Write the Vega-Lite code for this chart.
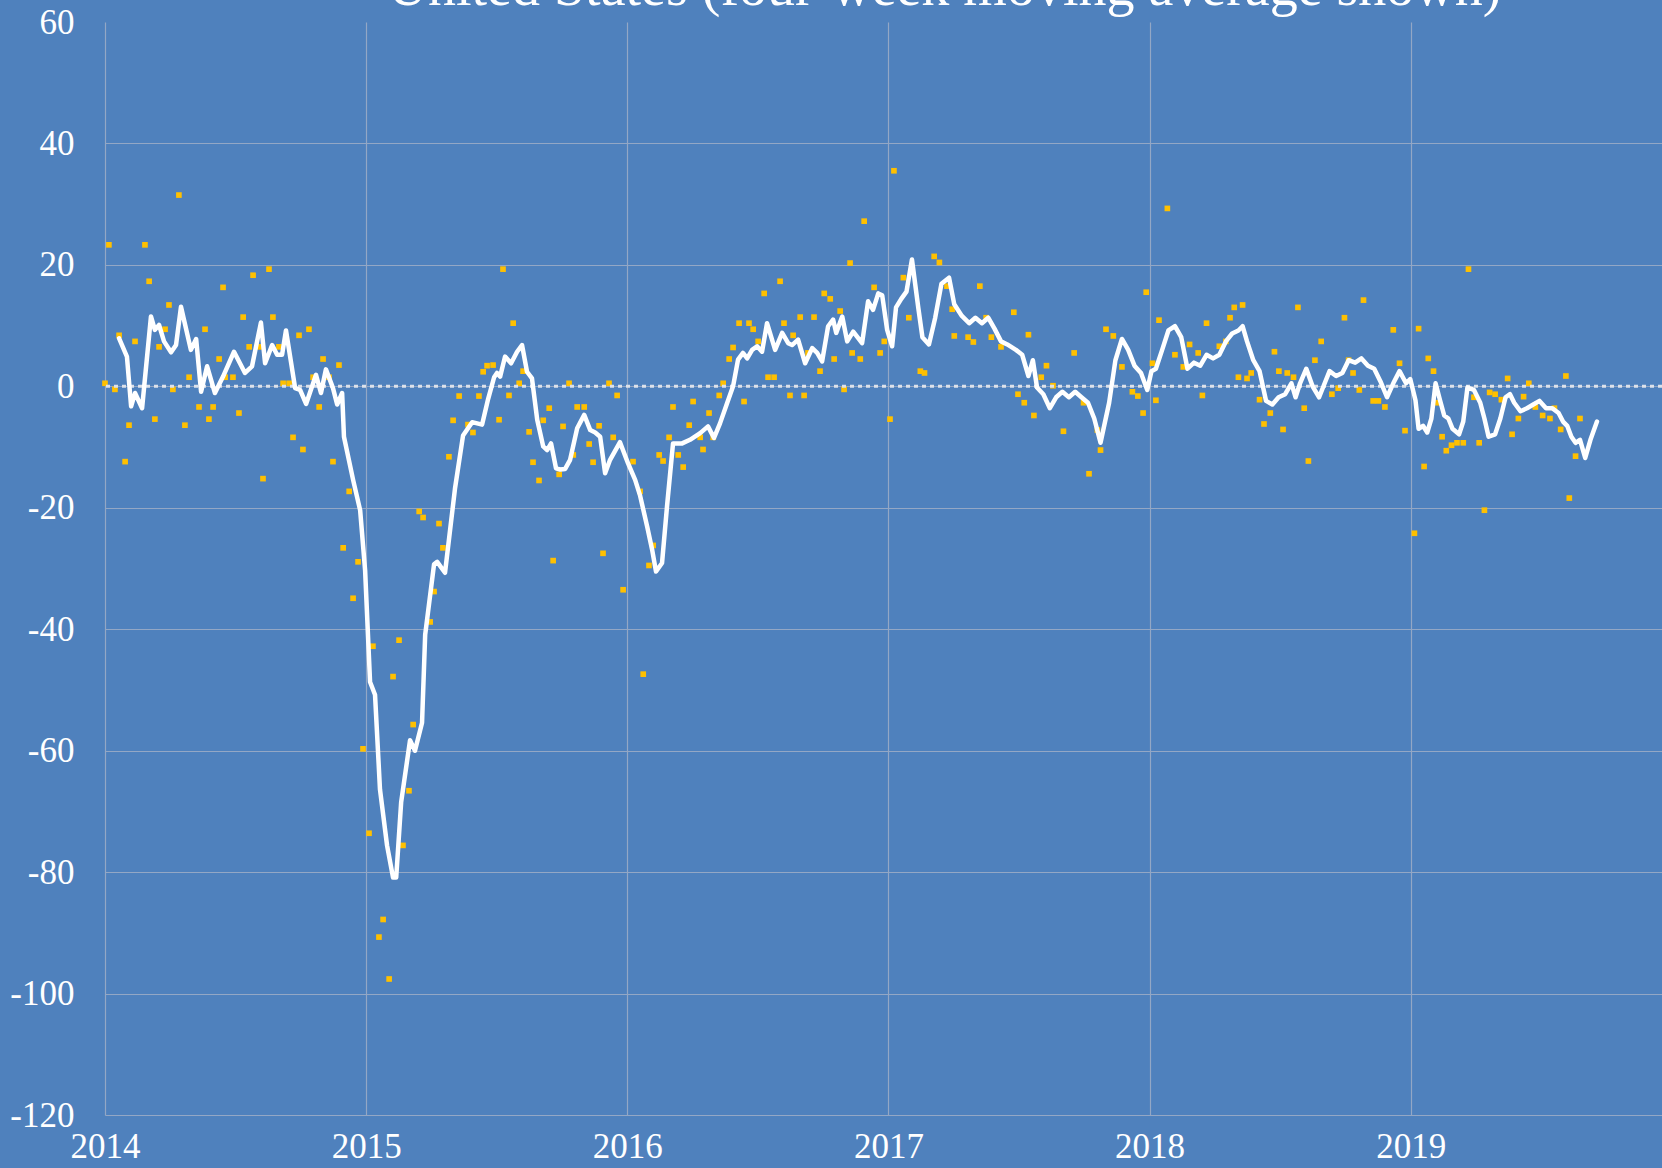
{
  "$schema": "https://vega.github.io/schema/vega-lite/v6.json",
  "autosize": {"type": "none"},
  "padding": {"left": 105, "top": 22, "right": 0, "bottom": 53},
  "width": 1557,
  "height": 1093,
  "background": "#4F81BD",
  "config": {
    "view": {"stroke": null},
    "axis": {
      "labelFont": "Liberation Serif",
      "labelFontSize": 35,
      "labelColor": "#FFFFFF",
      "gridColor": "#93A7C5",
      "gridWidth": 1.2,
      "domain": false,
      "ticks": false,
      "tickSize": 0,
      "title": null
    }
  },
  "title": {
    "text": "United States (four-week moving average shown)",
    "font": "Liberation Serif",
    "fontSize": 56,
    "fontWeight": "normal",
    "color": "#FFFFFF",
    "anchor": "middle",
    "frame": "group",
    "baseline": "alphabetic",
    "offset": 0,
    "dy": 56,
    "dx": 61
  },
  "datasets": {
    "pts": [
      {"t": 2014.000, "v": 0.5}, {"t": 2014.015, "v": 23.3}, {"t": 2014.038, "v": -0.5}, {"t": 2014.054, "v": 8.4},
      {"t": 2014.077, "v": -12.4}, {"t": 2014.092, "v": -6.4}, {"t": 2014.115, "v": 7.4}, {"t": 2014.153, "v": 23.3},
      {"t": 2014.169, "v": 17.3}, {"t": 2014.191, "v": -5.4}, {"t": 2014.207, "v": 6.5}, {"t": 2014.230, "v": 9.4},
      {"t": 2014.245, "v": 13.4}, {"t": 2014.260, "v": -0.5}, {"t": 2014.283, "v": 31.5}, {"t": 2014.306, "v": -6.4},
      {"t": 2014.322, "v": 1.5}, {"t": 2014.360, "v": -3.4}, {"t": 2014.383, "v": 9.4}, {"t": 2014.398, "v": -5.4},
      {"t": 2014.414, "v": -3.4}, {"t": 2014.437, "v": 4.5}, {"t": 2014.452, "v": 16.3}, {"t": 2014.460, "v": 1.5},
      {"t": 2014.490, "v": 1.5}, {"t": 2014.513, "v": -4.4}, {"t": 2014.529, "v": 11.4}, {"t": 2014.552, "v": 6.5},
      {"t": 2014.567, "v": 18.3}, {"t": 2014.590, "v": 6.5}, {"t": 2014.605, "v": -15.2}, {"t": 2014.628, "v": 19.3},
      {"t": 2014.643, "v": 11.4}, {"t": 2014.666, "v": 6.5}, {"t": 2014.682, "v": 0.5}, {"t": 2014.705, "v": 0.5},
      {"t": 2014.720, "v": -8.4}, {"t": 2014.743, "v": 8.4}, {"t": 2014.758, "v": -10.4}, {"t": 2014.781, "v": 9.4},
      {"t": 2014.797, "v": 1.5}, {"t": 2014.820, "v": -3.4}, {"t": 2014.835, "v": 4.5}, {"t": 2014.858, "v": 1.5},
      {"t": 2014.873, "v": -12.4}, {"t": 2014.896, "v": 3.5}, {"t": 2014.912, "v": -26.6}, {"t": 2014.935, "v": -17.3},
      {"t": 2014.950, "v": -34.9}, {"t": 2014.969, "v": -28.9}, {"t": 2014.988, "v": -59.7}, {"t": 2015.011, "v": -73.6},
      {"t": 2015.026, "v": -42.8}, {"t": 2015.049, "v": -90.7}, {"t": 2015.065, "v": -87.8}, {"t": 2015.088, "v": -97.6},
      {"t": 2015.103, "v": -47.8}, {"t": 2015.126, "v": -41.8}, {"t": 2015.141, "v": -75.6}, {"t": 2015.164, "v": -66.6},
      {"t": 2015.180, "v": -55.7}, {"t": 2015.203, "v": -20.6}, {"t": 2015.218, "v": -21.6}, {"t": 2015.245, "v": -38.8},
      {"t": 2015.260, "v": -33.8}, {"t": 2015.279, "v": -22.6}, {"t": 2015.294, "v": -26.6}, {"t": 2015.317, "v": -11.6},
      {"t": 2015.333, "v": -5.6}, {"t": 2015.356, "v": -1.6}, {"t": 2015.390, "v": -6.3}, {"t": 2015.409, "v": -7.6},
      {"t": 2015.432, "v": -1.6}, {"t": 2015.448, "v": 2.4}, {"t": 2015.463, "v": 3.4}, {"t": 2015.486, "v": 3.5},
      {"t": 2015.509, "v": -5.5}, {"t": 2015.524, "v": 19.3}, {"t": 2015.547, "v": -1.5}, {"t": 2015.563, "v": 10.4},
      {"t": 2015.586, "v": 0.5}, {"t": 2015.601, "v": 2.5}, {"t": 2015.624, "v": -7.5}, {"t": 2015.639, "v": -12.5},
      {"t": 2015.662, "v": -15.5}, {"t": 2015.678, "v": -5.6}, {"t": 2015.701, "v": -3.6}, {"t": 2015.716, "v": -28.7},
      {"t": 2015.739, "v": -14.5}, {"t": 2015.754, "v": -6.6}, {"t": 2015.777, "v": 0.5}, {"t": 2015.793, "v": -11.3},
      {"t": 2015.808, "v": -3.4}, {"t": 2015.835, "v": -3.4}, {"t": 2015.854, "v": -9.5}, {"t": 2015.869, "v": -12.5},
      {"t": 2015.892, "v": -6.5}, {"t": 2015.907, "v": -27.5}, {"t": 2015.930, "v": 0.5}, {"t": 2015.946, "v": -8.4},
      {"t": 2015.961, "v": -1.5}, {"t": 2015.984, "v": -33.5}, {"t": 2016.022, "v": -12.4}, {"t": 2016.049, "v": -17.3},
      {"t": 2016.061, "v": -47.4}, {"t": 2016.083, "v": -29.5}, {"t": 2016.099, "v": -26.2}, {"t": 2016.122, "v": -11.3},
      {"t": 2016.137, "v": -12.3}, {"t": 2016.160, "v": -8.4}, {"t": 2016.175, "v": -3.4}, {"t": 2016.195, "v": -11.3},
      {"t": 2016.214, "v": -13.3}, {"t": 2016.237, "v": -6.4}, {"t": 2016.252, "v": -2.5}, {"t": 2016.279, "v": -8.4},
      {"t": 2016.290, "v": -10.4}, {"t": 2016.313, "v": -4.4}, {"t": 2016.329, "v": -8.4}, {"t": 2016.352, "v": -1.5},
      {"t": 2016.367, "v": 0.5}, {"t": 2016.390, "v": 4.5}, {"t": 2016.405, "v": 6.4}, {"t": 2016.428, "v": 10.4},
      {"t": 2016.447, "v": -2.5}, {"t": 2016.466, "v": 10.4}, {"t": 2016.482, "v": 9.4}, {"t": 2016.501, "v": 7.4},
      {"t": 2016.524, "v": 15.3}, {"t": 2016.539, "v": 1.5}, {"t": 2016.562, "v": 1.5}, {"t": 2016.585, "v": 17.3},
      {"t": 2016.600, "v": 10.4}, {"t": 2016.623, "v": -1.5}, {"t": 2016.635, "v": 8.4}, {"t": 2016.662, "v": 11.4},
      {"t": 2016.677, "v": -1.5}, {"t": 2016.692, "v": 5.5}, {"t": 2016.715, "v": 11.4}, {"t": 2016.738, "v": 2.5},
      {"t": 2016.754, "v": 15.3}, {"t": 2016.777, "v": 14.4}, {"t": 2016.792, "v": 4.5}, {"t": 2016.815, "v": 12.4},
      {"t": 2016.830, "v": -0.5}, {"t": 2016.853, "v": 20.3}, {"t": 2016.861, "v": 5.5}, {"t": 2016.892, "v": 4.5},
      {"t": 2016.907, "v": 27.2}, {"t": 2016.945, "v": 16.3}, {"t": 2016.968, "v": 5.5}, {"t": 2016.984, "v": 7.4},
      {"t": 2017.006, "v": -5.4}, {"t": 2017.021, "v": 35.5}, {"t": 2017.057, "v": 17.9}, {"t": 2017.078, "v": 11.3},
      {"t": 2017.122, "v": 2.5}, {"t": 2017.138, "v": 2.2}, {"t": 2017.175, "v": 21.4}, {"t": 2017.195, "v": 20.4},
      {"t": 2017.224, "v": 16.5}, {"t": 2017.244, "v": 12.7}, {"t": 2017.252, "v": 8.3}, {"t": 2017.305, "v": 8.1},
      {"t": 2017.325, "v": 7.3}, {"t": 2017.350, "v": 16.5}, {"t": 2017.374, "v": 11.3}, {"t": 2017.394, "v": 8.1},
      {"t": 2017.431, "v": 6.5}, {"t": 2017.480, "v": 12.2}, {"t": 2017.496, "v": -1.3}, {"t": 2017.520, "v": -2.7},
      {"t": 2017.536, "v": 8.5}, {"t": 2017.557, "v": -4.8}, {"t": 2017.585, "v": 1.5}, {"t": 2017.605, "v": 3.4},
      {"t": 2017.630, "v": 0.1}, {"t": 2017.670, "v": -7.4}, {"t": 2017.711, "v": 5.5}, {"t": 2017.747, "v": -2.7},
      {"t": 2017.768, "v": -14.4}, {"t": 2017.800, "v": -7.2}, {"t": 2017.812, "v": -10.5}, {"t": 2017.833, "v": 9.4},
      {"t": 2017.861, "v": 8.3}, {"t": 2017.894, "v": 3.2}, {"t": 2017.934, "v": -0.9}, {"t": 2017.955, "v": -1.6},
      {"t": 2017.975, "v": -4.4}, {"t": 2017.987, "v": 15.5}, {"t": 2018.011, "v": 3.8}, {"t": 2018.024, "v": -2.3},
      {"t": 2018.036, "v": 10.9}, {"t": 2018.068, "v": 29.3}, {"t": 2018.097, "v": 5.2}, {"t": 2018.129, "v": 3.2},
      {"t": 2018.153, "v": 6.9}, {"t": 2018.186, "v": 5.5}, {"t": 2018.202, "v": -1.5}, {"t": 2018.218, "v": 10.4},
      {"t": 2018.267, "v": 6.6}, {"t": 2018.292, "v": 7.4}, {"t": 2018.308, "v": 11.3}, {"t": 2018.324, "v": 13.0},
      {"t": 2018.340, "v": 1.5}, {"t": 2018.356, "v": 13.4}, {"t": 2018.373, "v": 1.3}, {"t": 2018.389, "v": 2.2},
      {"t": 2018.421, "v": -2.2}, {"t": 2018.438, "v": -6.2}, {"t": 2018.462, "v": -4.4}, {"t": 2018.478, "v": 5.7},
      {"t": 2018.495, "v": 2.5}, {"t": 2018.511, "v": -7.1}, {"t": 2018.527, "v": 2.2}, {"t": 2018.551, "v": 1.5},
      {"t": 2018.568, "v": 13.0}, {"t": 2018.592, "v": -3.6}, {"t": 2018.608, "v": -12.3}, {"t": 2018.633, "v": 4.3},
      {"t": 2018.657, "v": 7.4}, {"t": 2018.698, "v": -1.3}, {"t": 2018.722, "v": -0.3}, {"t": 2018.746, "v": 11.3},
      {"t": 2018.762, "v": 4.3}, {"t": 2018.779, "v": 2.2}, {"t": 2018.803, "v": -0.6}, {"t": 2018.819, "v": 14.2},
      {"t": 2018.856, "v": -2.4}, {"t": 2018.876, "v": -2.4}, {"t": 2018.901, "v": -3.4}, {"t": 2018.933, "v": 9.3},
      {"t": 2018.957, "v": 3.8}, {"t": 2018.978, "v": -7.3}, {"t": 2019.014, "v": -24.2}, {"t": 2019.030, "v": 9.5},
      {"t": 2019.051, "v": -13.2}, {"t": 2019.067, "v": 4.6}, {"t": 2019.087, "v": 2.5}, {"t": 2019.104, "v": -2.7},
      {"t": 2019.120, "v": -8.3}, {"t": 2019.136, "v": -10.6}, {"t": 2019.156, "v": -9.7}, {"t": 2019.177, "v": -9.3},
      {"t": 2019.201, "v": -9.3}, {"t": 2019.221, "v": 19.3}, {"t": 2019.242, "v": -1.8}, {"t": 2019.262, "v": -9.3},
      {"t": 2019.282, "v": -20.4}, {"t": 2019.302, "v": -1.0}, {"t": 2019.323, "v": -1.3}, {"t": 2019.347, "v": -2.2},
      {"t": 2019.371, "v": 1.3}, {"t": 2019.388, "v": -7.9}, {"t": 2019.412, "v": -5.3}, {"t": 2019.432, "v": -1.7},
      {"t": 2019.452, "v": 0.5}, {"t": 2019.477, "v": -3.4}, {"t": 2019.505, "v": -4.8}, {"t": 2019.533, "v": -5.3},
      {"t": 2019.550, "v": -3.6}, {"t": 2019.574, "v": -7.1}, {"t": 2019.594, "v": 1.7}, {"t": 2019.607, "v": -18.4},
      {"t": 2019.631, "v": -11.5}, {"t": 2019.648, "v": -5.3}
    ],
    "ma": [
      {"t": 2014.054, "v": 7.9}, {"t": 2014.084, "v": 4.9}, {"t": 2014.100, "v": -3.3}, {"t": 2014.115, "v": -1.1},
      {"t": 2014.142, "v": -3.6}, {"t": 2014.176, "v": 11.5}, {"t": 2014.191, "v": 9.3}, {"t": 2014.207, "v": 10.1},
      {"t": 2014.226, "v": 7.4}, {"t": 2014.253, "v": 5.6}, {"t": 2014.272, "v": 6.8}, {"t": 2014.291, "v": 13.1},
      {"t": 2014.329, "v": 6.0}, {"t": 2014.349, "v": 7.8}, {"t": 2014.368, "v": -0.9}, {"t": 2014.391, "v": 3.3},
      {"t": 2014.421, "v": -1.1}, {"t": 2014.452, "v": 1.6}, {"t": 2014.494, "v": 5.7}, {"t": 2014.536, "v": 2.2},
      {"t": 2014.563, "v": 3.3}, {"t": 2014.597, "v": 10.5}, {"t": 2014.613, "v": 3.8}, {"t": 2014.640, "v": 6.8},
      {"t": 2014.659, "v": 5.2}, {"t": 2014.678, "v": 5.2}, {"t": 2014.693, "v": 9.2}, {"t": 2014.728, "v": -0.3},
      {"t": 2014.747, "v": -0.6}, {"t": 2014.770, "v": -2.9}, {"t": 2014.808, "v": 1.9}, {"t": 2014.827, "v": -1.1},
      {"t": 2014.846, "v": 2.8}, {"t": 2014.873, "v": -0.3}, {"t": 2014.889, "v": -3.0}, {"t": 2014.908, "v": -1.1},
      {"t": 2014.915, "v": -8.3}, {"t": 2014.950, "v": -15.4}, {"t": 2014.977, "v": -20.4}, {"t": 2014.996, "v": -30.3},
      {"t": 2015.015, "v": -48.7}, {"t": 2015.034, "v": -50.8}, {"t": 2015.053, "v": -66.4}, {"t": 2015.080, "v": -75.6},
      {"t": 2015.103, "v": -80.9}, {"t": 2015.115, "v": -80.9}, {"t": 2015.134, "v": -68.5}, {"t": 2015.168, "v": -58.3},
      {"t": 2015.187, "v": -60.0}, {"t": 2015.214, "v": -55.4}, {"t": 2015.226, "v": -40.9}, {"t": 2015.260, "v": -29.3},
      {"t": 2015.272, "v": -28.9}, {"t": 2015.302, "v": -30.7}, {"t": 2015.340, "v": -16.9}, {"t": 2015.371, "v": -8.1},
      {"t": 2015.406, "v": -5.9}, {"t": 2015.444, "v": -6.3}, {"t": 2015.467, "v": -2.1}, {"t": 2015.490, "v": 1.5},
      {"t": 2015.501, "v": 2.2}, {"t": 2015.513, "v": 1.6}, {"t": 2015.532, "v": 4.9}, {"t": 2015.555, "v": 3.8},
      {"t": 2015.578, "v": 5.7}, {"t": 2015.597, "v": 6.8}, {"t": 2015.616, "v": 2.4}, {"t": 2015.635, "v": 1.3},
      {"t": 2015.655, "v": -5.5}, {"t": 2015.678, "v": -9.9}, {"t": 2015.693, "v": -10.5}, {"t": 2015.708, "v": -9.4},
      {"t": 2015.727, "v": -13.5}, {"t": 2015.743, "v": -13.7}, {"t": 2015.762, "v": -13.6}, {"t": 2015.781, "v": -12.1},
      {"t": 2015.808, "v": -6.9}, {"t": 2015.835, "v": -4.7}, {"t": 2015.858, "v": -7.2}, {"t": 2015.877, "v": -7.6},
      {"t": 2015.896, "v": -8.3}, {"t": 2015.915, "v": -14.3}, {"t": 2015.934, "v": -12.1}, {"t": 2015.972, "v": -9.2},
      {"t": 2016.003, "v": -12.7}, {"t": 2016.030, "v": -15.4}, {"t": 2016.049, "v": -18.0}, {"t": 2016.076, "v": -23.1},
      {"t": 2016.095, "v": -26.9}, {"t": 2016.110, "v": -30.5}, {"t": 2016.133, "v": -29.1}, {"t": 2016.152, "v": -19.8},
      {"t": 2016.175, "v": -9.4}, {"t": 2016.210, "v": -9.4}, {"t": 2016.240, "v": -8.8}, {"t": 2016.279, "v": -7.7},
      {"t": 2016.309, "v": -6.6}, {"t": 2016.332, "v": -8.5}, {"t": 2016.355, "v": -6.1}, {"t": 2016.382, "v": -2.8},
      {"t": 2016.405, "v": 0.0}, {"t": 2016.424, "v": 4.4}, {"t": 2016.443, "v": 5.5}, {"t": 2016.459, "v": 4.6},
      {"t": 2016.478, "v": 6.0}, {"t": 2016.497, "v": 6.6}, {"t": 2016.516, "v": 5.7}, {"t": 2016.535, "v": 10.4},
      {"t": 2016.566, "v": 6.0}, {"t": 2016.593, "v": 8.8}, {"t": 2016.616, "v": 7.1}, {"t": 2016.631, "v": 6.8},
      {"t": 2016.654, "v": 7.7}, {"t": 2016.681, "v": 3.8}, {"t": 2016.708, "v": 6.3}, {"t": 2016.727, "v": 5.5},
      {"t": 2016.746, "v": 4.1}, {"t": 2016.769, "v": 9.9}, {"t": 2016.788, "v": 11.0}, {"t": 2016.800, "v": 8.8},
      {"t": 2016.823, "v": 11.5}, {"t": 2016.842, "v": 7.4}, {"t": 2016.865, "v": 9.0}, {"t": 2016.899, "v": 7.1},
      {"t": 2016.922, "v": 14.0}, {"t": 2016.941, "v": 12.6}, {"t": 2016.961, "v": 15.3}, {"t": 2016.976, "v": 15.0},
      {"t": 2016.995, "v": 9.3}, {"t": 2017.014, "v": 6.6}, {"t": 2017.029, "v": 13.0}, {"t": 2017.049, "v": 14.4},
      {"t": 2017.069, "v": 15.6}, {"t": 2017.090, "v": 20.9}, {"t": 2017.114, "v": 13.0}, {"t": 2017.130, "v": 8.1},
      {"t": 2017.155, "v": 6.9}, {"t": 2017.179, "v": 11.3}, {"t": 2017.203, "v": 16.9}, {"t": 2017.232, "v": 17.9},
      {"t": 2017.252, "v": 13.5}, {"t": 2017.281, "v": 11.6}, {"t": 2017.309, "v": 10.4}, {"t": 2017.333, "v": 11.3},
      {"t": 2017.358, "v": 10.4}, {"t": 2017.382, "v": 11.3}, {"t": 2017.406, "v": 9.5}, {"t": 2017.431, "v": 7.4},
      {"t": 2017.455, "v": 6.9}, {"t": 2017.488, "v": 6.0}, {"t": 2017.512, "v": 5.2}, {"t": 2017.536, "v": 1.7},
      {"t": 2017.553, "v": 4.3}, {"t": 2017.569, "v": -0.2}, {"t": 2017.593, "v": -1.3}, {"t": 2017.618, "v": -3.6},
      {"t": 2017.642, "v": -1.8}, {"t": 2017.666, "v": -0.9}, {"t": 2017.691, "v": -1.8}, {"t": 2017.715, "v": -0.9},
      {"t": 2017.739, "v": -1.8}, {"t": 2017.764, "v": -2.7}, {"t": 2017.788, "v": -5.3}, {"t": 2017.812, "v": -9.3},
      {"t": 2017.845, "v": -2.7}, {"t": 2017.869, "v": 4.3}, {"t": 2017.894, "v": 7.8}, {"t": 2017.918, "v": 6.0},
      {"t": 2017.942, "v": 3.4}, {"t": 2017.967, "v": 2.2}, {"t": 2017.991, "v": -0.6}, {"t": 2018.007, "v": 2.5},
      {"t": 2018.024, "v": 2.9}, {"t": 2018.048, "v": 6.0}, {"t": 2018.072, "v": 9.2}, {"t": 2018.097, "v": 9.9},
      {"t": 2018.121, "v": 8.1}, {"t": 2018.145, "v": 2.9}, {"t": 2018.170, "v": 3.9}, {"t": 2018.194, "v": 3.4},
      {"t": 2018.218, "v": 5.2}, {"t": 2018.243, "v": 4.6}, {"t": 2018.267, "v": 5.2}, {"t": 2018.292, "v": 7.4},
      {"t": 2018.316, "v": 8.7}, {"t": 2018.340, "v": 9.2}, {"t": 2018.356, "v": 9.9}, {"t": 2018.373, "v": 7.4},
      {"t": 2018.397, "v": 4.3}, {"t": 2018.421, "v": 2.5}, {"t": 2018.446, "v": -2.4}, {"t": 2018.470, "v": -3.0},
      {"t": 2018.494, "v": -1.8}, {"t": 2018.519, "v": -1.3}, {"t": 2018.543, "v": 0.5}, {"t": 2018.559, "v": -1.8},
      {"t": 2018.576, "v": 0.5}, {"t": 2018.600, "v": 2.9}, {"t": 2018.624, "v": 0.0}, {"t": 2018.649, "v": -1.8},
      {"t": 2018.673, "v": 0.8}, {"t": 2018.689, "v": 2.5}, {"t": 2018.714, "v": 1.7}, {"t": 2018.738, "v": 2.2},
      {"t": 2018.762, "v": 4.3}, {"t": 2018.787, "v": 3.9}, {"t": 2018.811, "v": 4.6}, {"t": 2018.836, "v": 3.4},
      {"t": 2018.860, "v": 2.9}, {"t": 2018.884, "v": 0.8}, {"t": 2018.909, "v": -1.8}, {"t": 2018.933, "v": 0.5},
      {"t": 2018.957, "v": 2.5}, {"t": 2018.982, "v": 0.5}, {"t": 2018.998, "v": 1.2}, {"t": 2019.018, "v": -2.3},
      {"t": 2019.030, "v": -7.0}, {"t": 2019.047, "v": -6.5}, {"t": 2019.063, "v": -7.6}, {"t": 2019.079, "v": -5.3},
      {"t": 2019.095, "v": 0.5}, {"t": 2019.112, "v": -2.3}, {"t": 2019.128, "v": -4.8}, {"t": 2019.144, "v": -5.3},
      {"t": 2019.160, "v": -7.0}, {"t": 2019.185, "v": -7.9}, {"t": 2019.201, "v": -5.8}, {"t": 2019.217, "v": -0.2},
      {"t": 2019.242, "v": -0.6}, {"t": 2019.266, "v": -2.7}, {"t": 2019.282, "v": -5.3}, {"t": 2019.298, "v": -8.3},
      {"t": 2019.323, "v": -7.9}, {"t": 2019.343, "v": -5.3}, {"t": 2019.363, "v": -1.8}, {"t": 2019.380, "v": -1.3},
      {"t": 2019.396, "v": -2.7}, {"t": 2019.420, "v": -4.1}, {"t": 2019.445, "v": -3.6}, {"t": 2019.469, "v": -3.0},
      {"t": 2019.493, "v": -2.4}, {"t": 2019.518, "v": -3.6}, {"t": 2019.542, "v": -3.6}, {"t": 2019.566, "v": -4.4},
      {"t": 2019.583, "v": -5.8}, {"t": 2019.599, "v": -6.5}, {"t": 2019.615, "v": -8.3}, {"t": 2019.631, "v": -9.3},
      {"t": 2019.648, "v": -8.8}, {"t": 2019.668, "v": -11.8}, {"t": 2019.688, "v": -8.8}, {"t": 2019.713, "v": -5.8}
    ]
  },
  "layer": [
    {
      "data": {"name": "pts"},
      "mark": {"type": "point", "shape": "square", "filled": true, "size": 32, "color": "#FFC000", "opacity": 1},
      "encoding": {
        "x": {
          "field": "t", "type": "quantitative",
          "scale": {"domain": [2014, 2019.962], "nice": false, "zero": false},
          "axis": {
            "values": [2014, 2015, 2016, 2017, 2018, 2019],
            "labelExpr": "'' + datum.value",
            "labelBaseline": "alphabetic",
            "labelPadding": 42,
            "labelAlign": "center",
            "grid": true
          }
        },
        "y": {
          "field": "v", "type": "quantitative",
          "scale": {"domain": [-120, 60], "nice": false, "zero": false},
          "axis": {
            "values": [-120, -100, -80, -60, -40, -20, 0, 20, 40, 60],
            "labelExpr": "'' + datum.value",
            "labelPadding": 31,
            "labelBaseline": "middle",
            "grid": true,
            "gridOpacity": {"condition": {"test": "datum.value === 60", "value": 0}, "value": 1}
          }
        }
      }
    },
    {
      "data": {"values": [{}]},
      "mark": {"type": "rule", "color": "#DCE1EA", "strokeWidth": 3, "strokeDash": [4, 4]},
      "encoding": {"y": {"datum": 0, "type": "quantitative"}}
    },
    {
      "data": {"name": "ma"},
      "mark": {"type": "line", "color": "#FFFFFF", "strokeWidth": 4.5, "strokeJoin": "round", "strokeCap": "round"},
      "encoding": {
        "x": {"field": "t", "type": "quantitative"},
        "y": {"field": "v", "type": "quantitative"}
      }
    }
  ]
}
